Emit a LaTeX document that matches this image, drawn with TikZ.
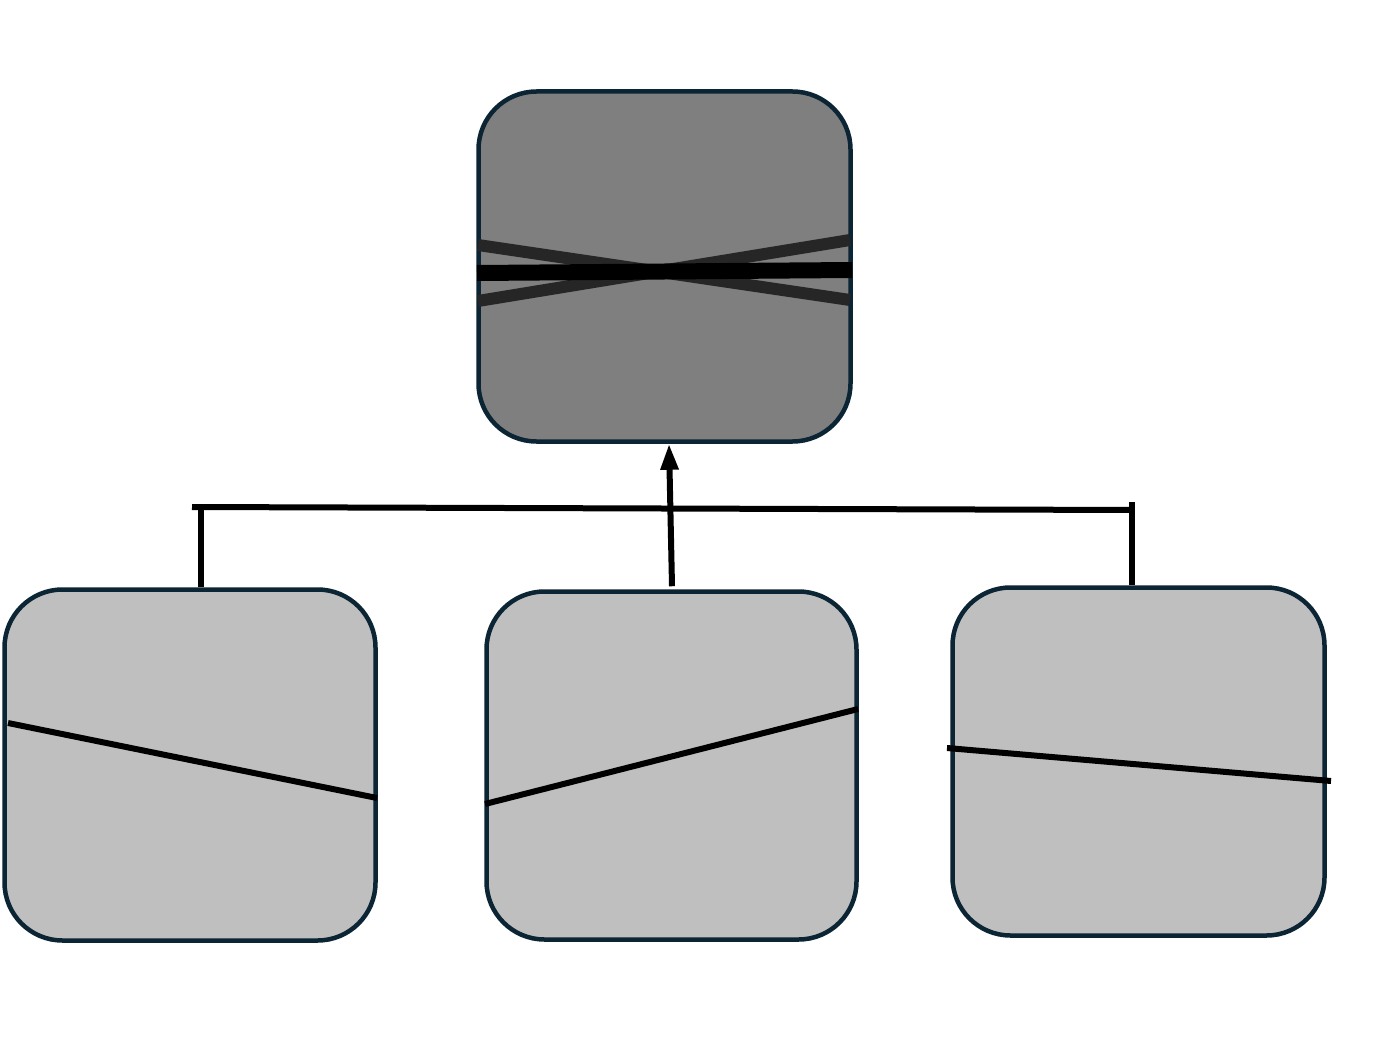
\documentclass[tikz,border=0pt]{standalone}
\usetikzlibrary{arrows.meta}
\definecolor{edgenavy}{HTML}{0B2535}
\definecolor{topfill}{HTML}{7F7F7F}
\definecolor{lowfill}{HTML}{BFBFBF}
\definecolor{crossgray}{HTML}{262626}
\tikzset{
  card/.style={draw=edgenavy, line width=4.5pt, rounded corners=58pt, inner sep=0pt},
  topcard/.style={card, fill=topfill},
  lowcard/.style={card, fill=lowfill},
  slash/.style={black, line width=6pt},
  conn/.style={black, line width=6pt},
}
\begin{document}
\begin{tikzpicture}[x=1pt, y=-1pt]
\useasboundingbox (0,0) rectangle (1397,1051);
% boxes
\node[topcard, minimum width=372pt, minimum height=350pt] (top) at (664.5,266.5) {};
\node[lowcard, minimum width=371pt, minimum height=351pt] (left) at (190,765) {};
\node[lowcard, minimum width=370pt, minimum height=348pt] (mid) at (671.5,765.5) {};
\node[lowcard, minimum width=372pt, minimum height=348pt] (right) at (1138.5,761.5) {};
% lines inside the top box
\draw[crossgray, line width=12pt] (478,245) -- (850,300);
\draw[crossgray, line width=12pt] (478,301) -- (850,240);
\draw[black, line width=16pt] (477,273) -- (852,270);
% lines inside the lower boxes
\draw[slash] (8,723) -- (377,798);
\draw[slash] (485,804) -- (858,709);
\draw[slash] (947,748) -- (1331,781);
% connectors
\coordinate (bl) at (192,507);
\coordinate (br) at (1133,510);
\draw[conn] (bl) -- (br);
\draw[conn] ([xshift=11pt]left.north) -- ([xshift=11pt,yshift=3pt]left.north |- bl);
\draw[conn] ([xshift=-6.5pt]right.north) -- ([xshift=-6.5pt,yshift=8pt]right.north |- br);
\draw[conn, -{Triangle[width=17pt,length=26pt]}] ([xshift=0.5pt,yshift=3pt]mid.north) -- ([xshift=4.5pt]top.south);
\end{tikzpicture}
\end{document}
